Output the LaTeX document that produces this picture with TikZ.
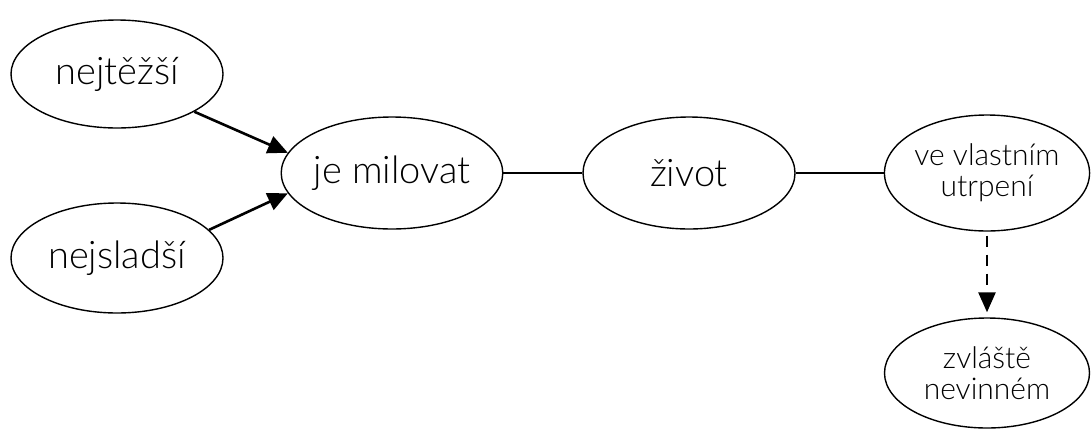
\documentclass[tikz,border=0pt]{standalone}
\usepackage{fontspec}
\setmainfont{Lato Light}
\usetikzlibrary{arrows.meta,shapes.geometric}
\begin{document}
\begin{tikzpicture}[x=1pt,y=-1pt,
  bubble/.style={draw,ellipse,line width=1.4pt,minimum width=#1,inner sep=0pt},
  big/.style={font=\fontsize{38}{40}\selectfont},
  small/.style={font=\fontsize{30}{31}\selectfont,align=center},
  link/.style={line width=2.2pt},
  push/.style={line width=2.6pt,-{Triangle[length=20pt,width=18pt]}},
  hint/.style={line width=2.6pt,dash pattern=on 11pt off 8pt,-{Triangle[length=20pt,width=17pt]}}]
\useasboundingbox (0,0) rectangle (1091,429);
\node[bubble=212pt,minimum height=108pt,big] (hard) at (117,74) {nejtěžší};
\node[bubble=212pt,minimum height=110pt,big] (sweet) at (117,258) {nejsladší};
\node[bubble=214pt,minimum height=112pt,big] (love) at (392,173) {je milovat};
\node[bubble=212pt,minimum height=112pt,big] (life) at (689,173) {život};
\node[bubble=205pt,minimum height=116pt,small] (pain) at (987,173) {ve vlastním\\utrpení};
\node[bubble=205pt,minimum height=110pt,small] (innocent) at (987,373) {zvláště\\nevinném};
\draw[push] (hard.-26) -- (love.169);
\draw[push] (sweet.17) -- (love.191);
\draw[link] (love.east) -- (life.west);
\draw[link] (life.east) -- (pain.west);
\draw[hint,shorten <=4pt,shorten >=5pt] (pain.south) -- (innocent.north);
\end{tikzpicture}
\end{document}
